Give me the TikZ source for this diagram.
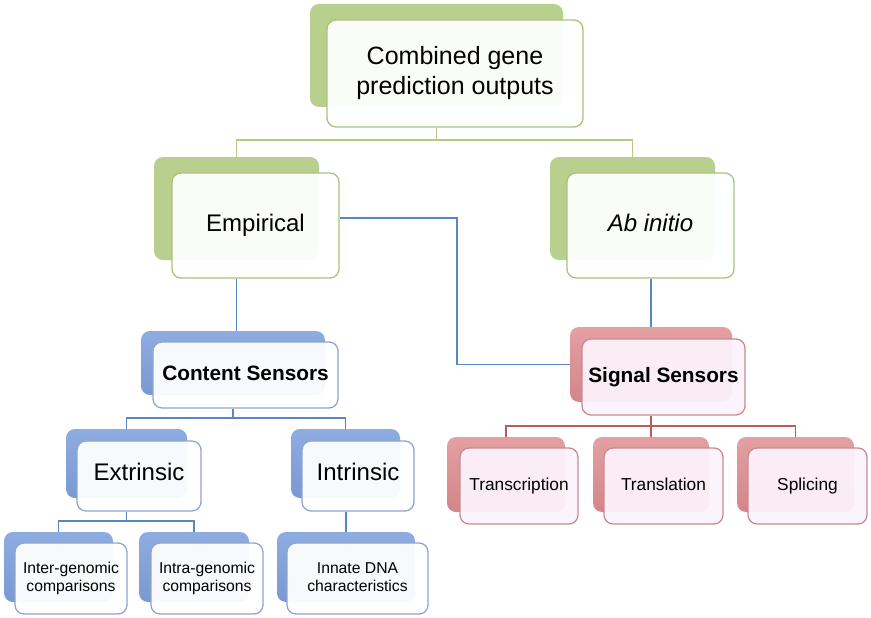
\documentclass[tikz,border=0pt]{standalone}
\usepackage{fontspec}
\setmainfont{Liberation Sans}
\definecolor{grBack}{HTML}{B9CF8D}
\definecolor{grEdge}{HTML}{A9C47A}
\definecolor{grLine}{HTML}{B3CB86}
\definecolor{blBackT}{HTML}{8EACE0}
\definecolor{blBackB}{HTML}{7A99D2}
\definecolor{blEdge}{HTML}{8EA6CF}
\definecolor{blLine}{HTML}{5A86C5}
\definecolor{rdBackT}{HTML}{E3A0A2}
\definecolor{rdBackB}{HTML}{D3858A}
\definecolor{rdEdge}{HTML}{C98A8E}
\definecolor{rdLine}{HTML}{B85C60}
\definecolor{rdFill}{HTML}{FCF3FC}
\begin{document}
\begin{tikzpicture}[x=1pt,y=-1pt,
  backbox/.style={inner sep=0pt, rounded corners=9pt},
  gback/.style={backbox, fill=grBack},
  bback/.style={backbox, top color=blBackT, bottom color=blBackB},
  rback/.style={backbox, top color=rdBackT, bottom color=rdBackB},
  frontbox/.style={inner sep=0pt, rounded corners=9pt, line width=1.3pt, align=center, fill opacity=0.94, text opacity=1, text=black},
  gfront/.style={frontbox, draw=grEdge, fill=white},
  bfront/.style={frontbox, draw=blEdge, fill=white},
  rfront/.style={frontbox, draw=rdEdge, fill=rdFill},
  gline/.style={draw=grLine, line width=1.3pt},
  bline/.style={draw=blLine, line width=1.3pt},
  rline/.style={draw=rdLine, line width=1.3pt},
  bigtxt/.style={font=\fontsize{24}{29}\selectfont, text height=17pt, text depth=5pt},
  midtxt/.style={font=\fontsize{20.8}{25}\selectfont\bfseries, text height=15pt, text depth=4.5pt},
  smltxt/.style={font=\fontsize{17.3}{21}\selectfont, text height=12.5pt, text depth=3.7pt},
  tinytxt/.style={font=\fontsize{15.7}{18.5}\selectfont}
]
\useasboundingbox (0,0) rectangle (871,618);

% top
\node[gback, minimum width=253pt, minimum height=103pt] (topB) at (436.5,55.5) {};
\node[gfront, minimum width=256pt, minimum height=107pt, font=\fontsize{25}{30}\selectfont] (topF) at (455,73.5) {Combined gene\\prediction outputs};

% level 2
\node[gback, minimum width=165pt, minimum height=103pt] (empB) at (236.5,208.5) {};
\node[gfront, bigtxt, minimum width=167pt, minimum height=105pt] (empF) at (255.5,225.5) {Empirical};
\node[gback, minimum width=165pt, minimum height=103pt] (abB) at (632.5,208.5) {};
\node[gfront, bigtxt, minimum width=167pt, minimum height=105pt] (abF) at (650.5,225.5) {\itshape Ab initio};

% level 3
\node[bback, minimum width=184pt, minimum height=64pt] (csB) at (233,363) {};
\node[bfront, midtxt, minimum width=185pt, minimum height=66pt] (csF) at (245.5,375) {Content Sensors};
\node[rback, minimum width=162pt, minimum height=75pt] (ssB) at (651,364.5) {};
\node[rfront, midtxt, minimum width=163pt, minimum height=76pt] (ssF) at (663.5,377) {Signal Sensors};

% level 4 (content)
\node[bback, minimum width=121pt, minimum height=69pt] (extB) at (126.5,463.5) {};
\node[bfront, bigtxt, minimum width=124pt, minimum height=70pt] (extF) at (139,476) {\raisebox{2pt}{Extrinsic}};
\node[bback, minimum width=109pt, minimum height=69pt] (intB) at (345.5,463.5) {};
\node[bfront, bigtxt, minimum width=112pt, minimum height=70pt] (intF) at (358,476) {\raisebox{2pt}{Intrinsic}};

% level 5
\node[bback, minimum width=109pt, minimum height=70pt] (interB) at (58.5,567) {};
\node[bfront, tinytxt, minimum width=112pt, minimum height=71pt] (interF) at (71,578.5) {Inter-genomic\\comparisons};
\node[bback, minimum width=110pt, minimum height=70pt] (intraB) at (194,567) {};
\node[bfront, tinytxt, minimum width=112pt, minimum height=71pt] (intraF) at (207,578.5) {Intra-genomic\\comparisons};
\node[bback, minimum width=138pt, minimum height=70pt] (innB) at (346,567) {};
\node[bfront, tinytxt, minimum width=141pt, minimum height=71pt] (innF) at (357.5,578.5) {Innate DNA\\characteristics\vphantom{p}};

% level 4 (signal)
\node[rback, minimum width=118pt, minimum height=75pt] (trB) at (506,474.5) {};
\node[rfront, smltxt, minimum width=118pt, minimum height=76pt] (trF) at (519,486) {Transcription};
\node[rback, minimum width=116pt, minimum height=75pt] (tlB) at (651,474.5) {};
\node[rfront, smltxt, minimum width=119pt, minimum height=76pt] (tlF) at (663.5,486) {Translation};
\node[rback, minimum width=117pt, minimum height=75pt] (spB) at (795.5,474.5) {};
\node[rfront, smltxt, minimum width=119pt, minimum height=76pt] (spF) at (807.5,486) {Splicing};

% connectors: top
\draw[gline] (topB.center |- topF.south) -- (topB.center |- 0,140);
\draw[gline] (empB.north) -- (empB.north |- 0,140) -- (abB.north |- 0,140) -- (abB.north);

% empirical / ab initio
\draw[bline] (empB.center |- empF.south) -- (empB.center |- csB.north);
\draw[bline] (ssB.north |- abF.south) -- (ssB.north);
\draw[bline] (empF.east |- 0,218) -- (457,218) |- (ssB.west);

% content sensors
\draw[bline] (csB.center |- csF.south) -- (csB.center |- 0,418);
\draw[bline] (extB.north) -- (extB.north |- 0,418) -- (intB.north |- 0,418) -- (intB.north);
\draw[bline] (extB.center |- extF.south) -- (extB.center |- 0,521);
\draw[bline] (interB.north) -- (interB.north |- 0,521) -- (intraB.north |- 0,521) -- (intraB.north);
\draw[bline] (innB.center |- intF.south) -- (innB.north);

% signal sensors
\draw[rline] (ssB.center |- ssF.south) -- (ssB.center |- 0,426);
\draw[rline] (trB.north) -- (trB.north |- 0,426) -- (spB.north |- 0,426) -- (spB.north);
\draw[rline] (tlB.center |- 0,426) -- (tlB.north);
\end{tikzpicture}
\end{document}
